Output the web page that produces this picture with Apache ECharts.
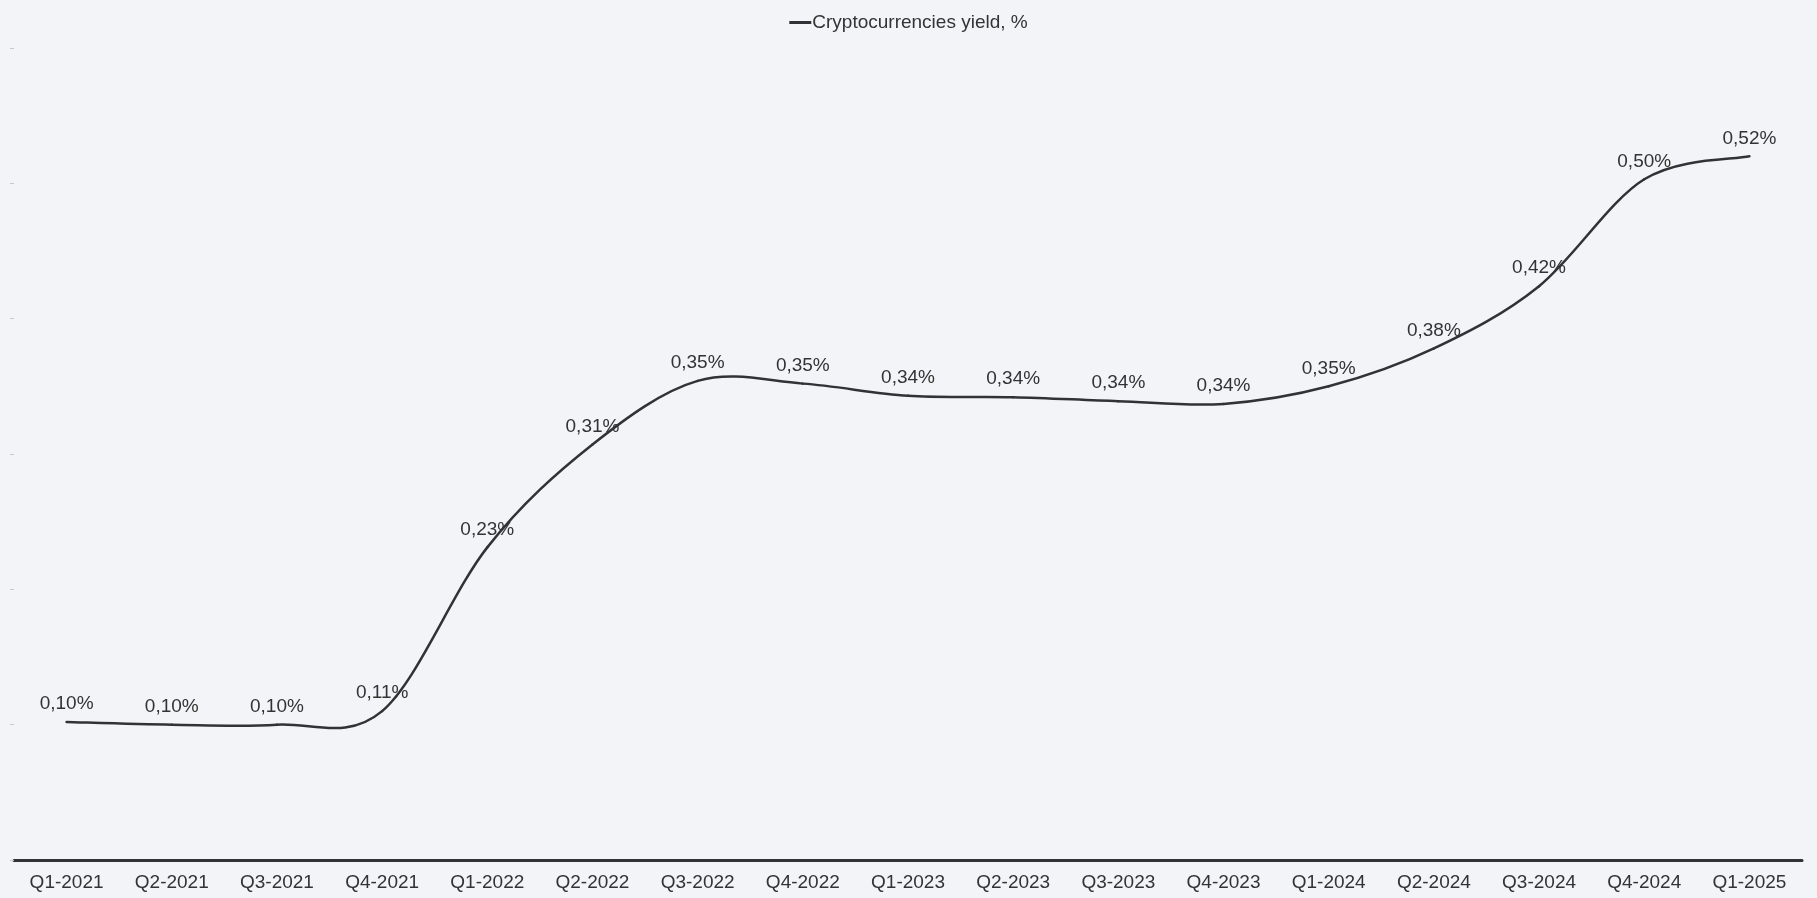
<!DOCTYPE html>
<html>
<head>
<meta charset="utf-8">
<script src="https://cdn.jsdelivr.net/npm/echarts@6/dist/echarts.min.js"></script>
<style>
html,body{margin:0;padding:0;background:#f3f4f7;}
#chart{width:1817px;height:898px;}
</style>
</head>
<body>
<div id="chart"></div>
<script>
const categories = ['Q1-2021','Q2-2021','Q3-2021','Q4-2021','Q1-2022','Q2-2022','Q3-2022','Q4-2022','Q1-2023','Q2-2023','Q3-2023','Q4-2023','Q1-2024','Q2-2024','Q3-2024','Q4-2024','Q1-2025'];
const yieldValues = [0.102,0.100,0.100,0.110,0.231,0.307,0.354,0.352,0.343,0.342,0.339,0.337,0.350,0.378,0.424,0.503,0.520];
const seriesName = 'Cryptocurrencies yield, %';

const chart = echarts.init(document.getElementById('chart'));
const font = '"Liberation Sans", Arial, Helvetica, sans-serif';
const lineColor = '#2f3338';

function renderSegment(params, api) {
  const i = params.dataIndex;
  const n = yieldValues.length;
  if (i >= n - 1) return null;
  const p = k => { const c = Math.max(0, Math.min(n - 1, k)); return api.coord([c, yieldValues[c]]); };
  const p0 = p(i - 1), p1 = p(i), p2 = p(i + 1), p3 = p(i + 2);
  return {
    type: 'bezierCurve',
    shape: {
      x1: p1[0], y1: p1[1],
      x2: p2[0], y2: p2[1],
      cpx1: p1[0] + (p2[0] - p0[0]) / 6, cpy1: p1[1] + (p2[1] - p0[1]) / 6,
      cpx2: p2[0] - (p3[0] - p1[0]) / 6, cpy2: p2[1] - (p3[1] - p1[1]) / 6
    },
    style: { stroke: lineColor, lineWidth: 2.5, fill: null, lineCap: 'round' },
    silent: true
  };
}

chart.setOption({
  backgroundColor: '#f3f4f7',
  animation: false,
  textStyle: { fontFamily: font },
  legend: {
    top: 8, left: 'center',
    itemWidth: 22, itemHeight: 3, itemGap: 0,
    textStyle: { fontSize: 19, color: '#333', fontFamily: font, padding: [0,0,0,-4] },
    data: [{ name: seriesName, icon: 'rect', itemStyle: { color: lineColor, opacity: 1 } }]
  },
  grid: { left: 14, right: 15, top: 48, bottom: 38, containLabel: false },
  xAxis: {
    type: 'category',
    data: categories,
    boundaryGap: true,
    axisLine: { show: true, lineStyle: { color: lineColor, width: 3 } },
    axisTick: { show: false },
    axisLabel: { fontSize: 19, color: '#333', margin: 13, fontFamily: font, interval: 0 }
  },
  yAxis: {
    type: 'value',
    min: 0, max: 0.6, interval: 0.1,
    axisLine: { show: false },
    axisTick: { show: true, length: 4, lineStyle: { color: '#c8c8c8', width: 1 } },
    axisLabel: { show: false },
    splitLine: { show: false }
  },
  series: [{
    name: seriesName,
    type: 'line',
    data: yieldValues,
    symbol: 'circle',
    symbolSize: 1,
    showSymbol: true,
    showAllSymbol: true,
    silent: true,
    lineStyle: { width: 0, color: 'rgba(0,0,0,0)' },
    itemStyle: { color: 'rgba(0,0,0,0)', borderWidth: 0 },
    label: {
      show: true, position: 'top', distance: 8,
      fontSize: 19, color: '#333', fontFamily: font,
      formatter: p => p.value.toFixed(2).replace('.', ',') + '%'
    },
    labelLayout: { hideOverlap: false },
    z: 3
  }, {
    name: seriesName,
    type: 'custom',
    data: yieldValues.map((v, i) => [i, v]),
    renderItem: renderSegment,
    encode: { x: 0, y: 1 },
    z: 2
  }]
});
</script>
</body>
</html>
